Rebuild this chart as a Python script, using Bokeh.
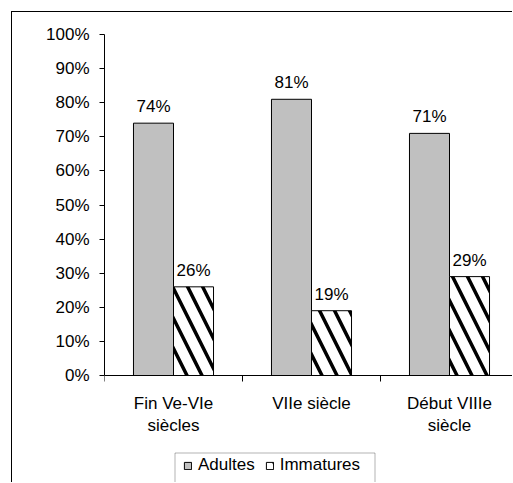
from bokeh.plotting import figure
from bokeh.models import (Range1d, FixedTicker, NumeralTickFormatter, BoxAnnotation,
                          Legend, LegendItem, ColumnDataSource)
from bokeh.transform import dodge
from bokeh.core.properties import value
from bokeh.embed import file_html
from bokeh.resources import INLINE

# ---- data ----
categories = ["Fin Ve-VIe\nsiècles", "VIIe siècle", "Début VIIIe\nsiècle"]
adultes = [74, 81, 71]
immatures = [26, 19, 29]
series_names = ["Adultes", "Immatures"]
y_ticks = [0, 10, 20, 30, 40, 50, 60, 70, 80, 90, 100]

FONT = "Liberation Sans"
FS = "17px"
BAR_W = 0.29

# ---- layout (pixels) ----
W, H = 501, 471            # canvas, placed 12px from the page corner
LEFT, TOP = 92, 22         # frame offsets inside the canvas
AXIS_PX = 341              # pixels from 0% to 100%
CAT_PX = 138               # pixels per category
frame_w = W - LEFT
frame_h = H - TOP

idx = list(range(len(categories)))
src = ColumnDataSource(dict(
    x=[i + 0.5 for i in idx],
    a=[v / 100 for v in adultes],
    im=[v / 100 for v in immatures],
    a_lbl=[f"{v}%" for v in adultes],
    im_lbl=[f"{v}%" for v in immatures],
))

p = figure(width=W, height=H, output_backend="svg", toolbar_location=None,
           x_range=Range1d(0, frame_w / CAT_PX),
           y_range=Range1d(1 - frame_h / AXIS_PX, 1),
           min_border_left=LEFT, min_border_right=0, min_border_top=TOP,
           min_border_bottom=0)
# outer chart border (cropped at right/bottom in the reference)
p.styles = {"margin-left": "11px", "margin-top": "11px",
            "border-left": "1px solid black", "border-top": "1px solid black"}
p.outline_line_color = None
p.xgrid.visible = False
p.ygrid.visible = False
p.background_fill_color = "white"
p.border_fill_color = "white"

ra = p.vbar(x=dodge("x", -BAR_W / 2, range=p.x_range), top="a", width=BAR_W, source=src,
            fill_color="#C0C0C0", line_color="black", line_width=1)
ri = p.vbar(x=dodge("x", BAR_W / 2, range=p.x_range), top="im", width=BAR_W, source=src,
            fill_color="white", line_color="black", line_width=1,
            hatch_pattern="\\", hatch_color="black", hatch_scale=30, hatch_weight=3.5)

for col, lbl, off in (("a", "a_lbl", -BAR_W / 2), ("im", "im_lbl", BAR_W / 2)):
    p.text(x=dodge("x", off, range=p.x_range), y=col, text=lbl, source=src,
           text_font=value(FONT), text_font_size=FS, text_color="black",
           text_align="center", text_baseline="bottom", y_offset=-7)

# x axis, drawn at 0% inside the frame
xa = p.xaxis[0]
xa.fixed_location = 0
xa.ticker = FixedTicker(ticks=[i + 0.5 for i in idx], minor_ticks=[0, 1, 2, 3])
xa.major_label_overrides = {i + 0.5: c for i, c in zip(idx, categories)}
xa.major_tick_out = 0
xa.major_tick_in = 0
xa.minor_tick_out = 6
xa.minor_tick_in = 0
xa.minor_tick_line_color = "black"
xa.axis_line_color = "black"
xa.major_label_text_font = FONT
xa.major_label_text_font_size = FS
xa.major_label_text_color = "black"
xa.major_label_standoff = 12

# y axis
ya = p.yaxis[0]
ya.bounds = (0, 1)
ya.ticker = FixedTicker(ticks=[t / 100 for t in y_ticks], minor_ticks=[])
ya.formatter = NumeralTickFormatter(format="0%")
ya.major_tick_out = 5
ya.major_tick_in = 0
ya.major_tick_line_color = "black"
ya.axis_line_color = "black"
ya.major_label_text_font = FONT
ya.major_label_text_font_size = FS
ya.major_label_text_color = "black"
ya.major_label_standoff = 10

# legend frame (its lower edge falls outside the picture)
p.add_layout(BoxAnnotation(left=70.5, right=270.5, top=30.5, bottom=-60,
                           left_units="screen", right_units="screen",
                           top_units="screen", bottom_units="screen",
                           fill_alpha=0, line_color="black", line_width=1))

legend = Legend(items=[LegendItem(label=series_names[0], renderers=[ra]),
                       LegendItem(label=series_names[1], renderers=[ri])],
                orientation="horizontal", location=(79, 8),
                border_line_color=None, background_fill_alpha=0,
                padding=0, margin=0, spacing=10,
                glyph_width=9, glyph_height=9, label_standoff=6, label_height=20,
                label_text_font=FONT, label_text_font_size=FS, label_text_color="black")
p.add_layout(legend, "center")

open("out.html", "w").write(file_html(p, INLINE))
